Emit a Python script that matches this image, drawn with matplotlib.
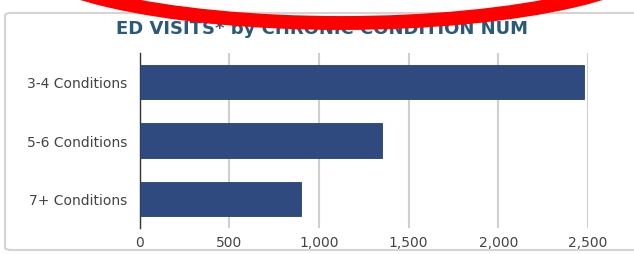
import matplotlib
matplotlib.use("Agg")
import matplotlib.pyplot as plt
from matplotlib.patches import Ellipse, FancyBboxPatch

# chart data
categories = ["3-4 Conditions", "5-6 Conditions", "7+ Conditions"]
visits = [2480, 1350, 900]
xticks = [0, 500, 1000, 1500, 2000, 2500]
xtick_labels = ["0", "500", "1,000", "1,500", "2,000", "2,500"]

W, H = 634, 255
fig = plt.figure(figsize=(W / 100, H / 100), dpi=100)
fig.patch.set_facecolor("white")

# light rounded panel border
panel = FancyBboxPatch((5 / W, 4 / H), 660 / W, 237 / H,
                       boxstyle="round,pad=0,rounding_size=0.01",
                       transform=fig.transFigure, facecolor="white",
                       edgecolor="#d4d4d4", linewidth=1.5, zorder=-5)
fig.patches.append(panel)

ax = fig.add_axes([139.5 / W, (H - 229.25) / H, (588 - 139.5) / W, 175.5 / H])
ax.set_facecolor("none")

ypos = list(range(len(categories)))
ax.barh(ypos, visits, height=0.59, color="#2f4a7e", edgecolor="#27406d",
        linewidth=0.6, zorder=3)

ax.set_xlim(0, 2500)
ax.set_ylim(2.5, -0.5)
ax.set_xticks(xticks)
ax.set_xticklabels(xtick_labels, fontsize=10, color="#444444")
ax.set_yticks(ypos)
ax.set_yticklabels(categories, fontsize=10, color="#444444")
ax.tick_params(axis="both", length=0, pad=5)
ax.tick_params(axis="y", pad=9)

ax.grid(axis="x", color="#cfcfcf", linewidth=1.5, zorder=1)
ax.set_axisbelow(True)
for side in ["top", "right", "bottom"]:
    ax.spines[side].set_visible(False)
ax.spines["left"].set_color("#333333")
ax.spines["left"].set_linewidth(1)
ax.spines["left"].set_zorder(2)

fig.text(322 / W, (H - 29) / H, "ED VISITS* by CHRONIC CONDITION NUM",
         ha="center", va="center", fontsize=13, fontweight="bold",
         color="#2b5a78")

# red annotation ring over the title
ring = Ellipse((341.5 / W, (H + 52) / H), 655 / W, 152 / H,
               transform=fig.transFigure, fill=False, edgecolor="#ff0000",
               linewidth=10, zorder=10)
fig.patches.append(ring)

fig.savefig("out.png", dpi=100)
